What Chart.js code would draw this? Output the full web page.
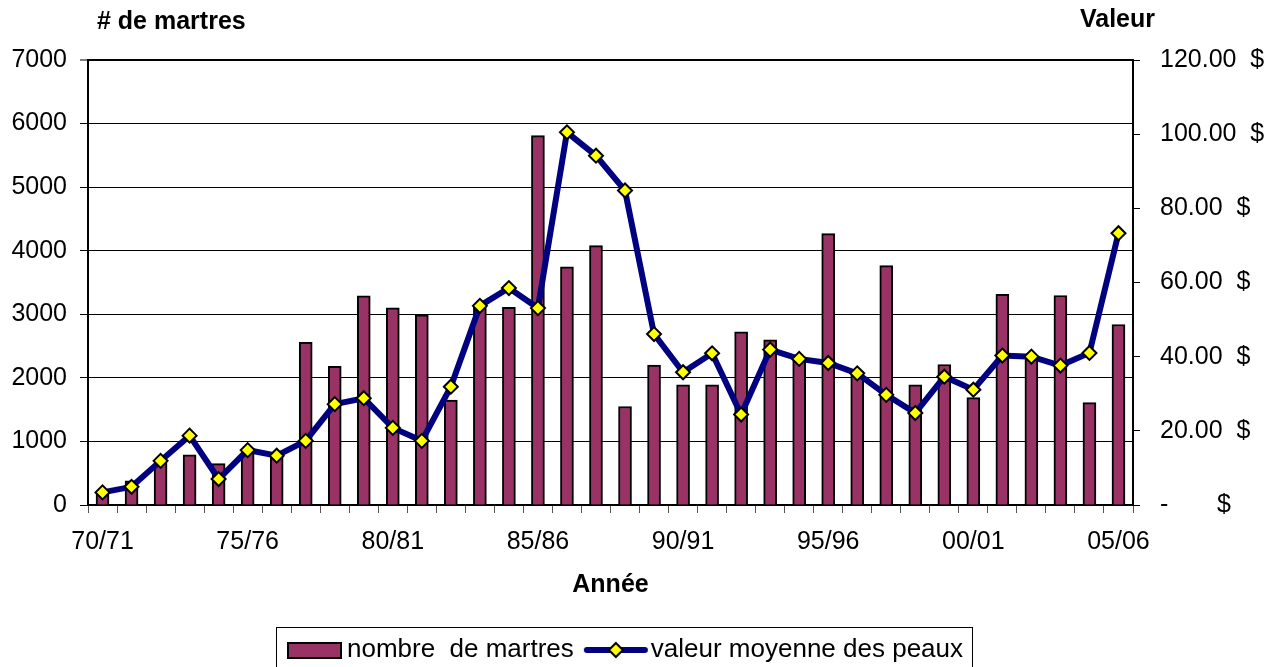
<!DOCTYPE html>
<html>
<head>
<meta charset="utf-8">
<script src="https://cdn.jsdelivr.net/npm/chart.js@4/dist/chart.umd.min.js"></script>
<style>
  html, body { margin: 0; padding: 0; background: #fff; }
  #wrap { width: 1276px; height: 667px; overflow: hidden; }
</style>
</head>
<body>
<div id="wrap"><canvas id="chart" width="1276" height="667"></canvas></div>
<script>
// --- DATA ---
const seasons = ['70/71', '71/72', '72/73', '73/74', '74/75', '75/76', '76/77', '77/78', '78/79', '79/80',
                 '80/81', '81/82', '82/83', '83/84', '84/85', '85/86', '86/87', '87/88', '88/89', '89/90',
                 '90/91', '91/92', '92/93', '93/94', '94/95', '95/96', '96/97', '97/98', '98/99', '99/00',
                 '00/01', '01/02', '02/03', '03/04', '04/05', '05/06'];

// nombre de martres (left axis)
const martres = [200, 380, 700, 790, 650, 870, 830, 2560, 2180, 3290,
                 3100, 2990, 1650, 3120, 3110, 5810, 3745, 4080, 1550, 2200,
                 1890, 1890, 2725, 2600, 2320, 4270, 2100, 3765, 1890, 2210,
                 1690, 3315, 2330, 3295, 1610, 2840];

// valeur moyenne des peaux, $ (right axis)
const valeur = [3.4, 4.9, 11.9, 18.7, 7.0, 14.8, 13.3, 17.3, 27.2, 28.8,
                20.8, 17.3, 31.9, 53.7, 58.5, 53.1, 100.5, 94.2, 84.8, 46.1,
                35.8, 40.9, 24.4, 41.9, 39.4, 38.3, 35.5, 29.7, 24.8, 34.6,
                31.1, 40.3, 40.0, 37.6, 41.0, 73.3];

const leftTicks = [0, 1000, 2000, 3000, 4000, 5000, 6000, 7000];
const rightTicks = [0, 20, 40, 60, 80, 100, 120];

const barLabel = 'nombre  de martres';
const lineLabel = 'valeur moyenne des peaux';
const leftTitle = '# de martres';
const rightTitle = 'Valeur';
const xTitle = 'Année';

// --- STYLE ---
const FONT = '"Liberation Sans", Arial, Helvetica, sans-serif';
const PLUM = '#993366';
const NAVY = '#000080';

// legend symbols drawn on small canvases
function makeBarIcon() {
    const c = document.createElement('canvas');
    c.width = 80; c.height = 24;
    const g = c.getContext('2d');
    g.fillStyle = PLUM;
    g.fillRect(21, 4, 55, 17);
    g.strokeStyle = '#000'; g.lineWidth = 2;
    g.strokeRect(22, 5, 53, 15);
    return c;
}
function makeLineIcon() {
    const c = document.createElement('canvas');
    c.width = 80; c.height = 24;
    const g = c.getContext('2d');
    g.strokeStyle = NAVY; g.lineWidth = 6; g.lineCap = 'round';
    g.beginPath(); g.moveTo(17, 12); g.lineTo(75, 12); g.stroke();
    const cx = 46, cy = 12, r = 7;
    g.beginPath();
    g.moveTo(cx, cy - r); g.lineTo(cx + r, cy); g.lineTo(cx, cy + r); g.lineTo(cx - r, cy); g.closePath();
    g.fillStyle = '#ffff00'; g.fill();
    g.strokeStyle = '#000'; g.lineWidth = 2; g.stroke();
    return c;
}
const icons = [makeBarIcon(), makeLineIcon()];

// headers above the axes + frame round the legend
const extras = {
    id: 'extras',
    afterDraw(chart) {
        const { ctx, chartArea } = chart;
        ctx.save();
        ctx.fillStyle = '#000';
        ctx.font = 'bold 25px ' + FONT;
        ctx.textBaseline = 'middle';
        ctx.textAlign = 'left';
        ctx.fillText(leftTitle, chartArea.left + 9, 22);
        ctx.textAlign = 'right';
        ctx.fillText(rightTitle, chartArea.right + 22, 20);

        const hb = chart.legend.legendHitBoxes;
        if (hb && hb.length) {
            const l = hb[0].left - 2;
            const r = hb[hb.length - 1].left + hb[hb.length - 1].width + 9;
            ctx.strokeStyle = '#000';
            ctx.lineWidth = 1;
            ctx.strokeRect(Math.round(l) + 0.5, 627.5, Math.round(r - l), 60);
        }
        ctx.restore();
    }
};

new Chart(document.getElementById('chart'), {
    type: 'bar',
    data: {
        labels: seasons,
        datasets: [
            {
                type: 'bar', label: barLabel, data: martres, yAxisID: 'y', order: 2,
                backgroundColor: PLUM, borderColor: '#000', borderWidth: 2,
                barThickness: 13
            },
            {
                type: 'line', label: lineLabel, data: valeur, yAxisID: 'y1', order: 1,
                borderColor: NAVY, borderWidth: 6, tension: 0, fill: false,
                pointStyle: 'rectRot', pointRadius: 7, pointBackgroundColor: '#ffff00',
                pointBorderColor: '#000', pointBorderWidth: 2
            }
        ]
    },
    options: {
        responsive: false,
        animation: false,
        devicePixelRatio: 1,
        events: [],
        // negative left padding centres the legend like the original
        layout: { padding: { top: 60, right: 0, bottom: -6, left: -35 } },
        plugins: {
            tooltip: { enabled: false },
            legend: {
                position: 'bottom',
                labels: {
                    usePointStyle: true,
                    pointStyleWidth: 56,
                    padding: 8,
                    color: '#000',
                    font: { family: FONT, size: 26 },
                    generateLabels: chart => chart.data.datasets.map((ds, i) => ({
                        text: ds.label, datasetIndex: i, pointStyle: icons[i],
                        fillStyle: 'transparent', strokeStyle: 'transparent', lineWidth: 0,
                        hidden: false, fontColor: '#000'
                    }))
                }
            }
        },
        scales: {
            x: {
                offset: true,
                grid: { display: true, drawOnChartArea: false, offset: true, color: '#555', tickLength: 8, lineWidth: 1 },
                border: { display: true, color: '#000', width: 2 },
                ticks: {
                    autoSkip: false, maxRotation: 0, minRotation: 0, padding: 14, color: '#000',
                    font: { family: FONT, size: 25 },
                    callback: (v, i) => (i % 5 === 0 ? seasons[i] : '')
                },
                title: {
                    display: true, text: xTitle, color: '#000',
                    font: { family: FONT, size: 25, weight: 'bold' },
                    padding: { top: 0, bottom: 29 }
                },
                afterFit: s => { s.height = 124; }
            },
            y: {
                position: 'left',
                min: 0, max: 7000,
                afterBuildTicks: s => { s.ticks = leftTicks.map(v => ({ value: v })); },
                grid: {
                    color: '#000', tickLength: 8, tickWidth: 1,
                    lineWidth: c => (c.tick && c.tick.value === 7000 ? 2 : 1)
                },
                border: { display: true, color: '#000', width: 2 },
                ticks: {
                    padding: 13, color: '#000', font: { family: FONT, size: 25 },
                    callback: v => String(v)
                },
                afterFit: s => { s.width = 88 + 35; }
            },
            y1: {
                position: 'right',
                min: 0, max: 120,
                afterBuildTicks: s => { s.ticks = rightTicks.map(v => ({ value: v })); },
                grid: { drawOnChartArea: false, color: '#000', tickLength: 7, lineWidth: 1 },
                border: { display: true, color: '#000', width: 2 },
                ticks: {
                    padding: 20, color: '#000', font: { family: FONT, size: 25 },
                    callback: v => (v === 0 ? '-       $' : v.toFixed(2) + '  $')
                },
                afterFit: s => { s.width = 1276 - 1133; }
            }
        }
    },
    plugins: [extras]
});
</script>
</body>
</html>
